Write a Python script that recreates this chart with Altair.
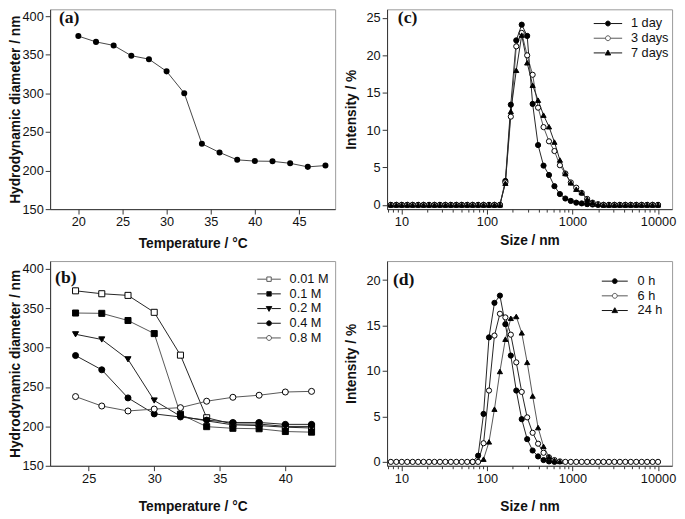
import altair as alt
import pandas as pd

FONT = "Liberation Sans"
SERIF = "Liberation Serif"

# ---------------- panel (a) ----------------
A_TEMP = [20, 22, 24, 26, 28, 30, 32, 34, 36, 38, 40, 42, 44, 46, 48]
A_DIAM = [374.3, 366.8, 362.2, 348.9, 344.4, 328.6, 300.3, 234.7, 223.5, 213.9,
          212.3, 212.0, 209.4, 204.8, 206.5]

# ---------------- panel (b) ----------------
B_TEMP = [24, 26, 28, 30, 32, 34, 36, 38, 40, 42]
B_SERIES = ["0.01 M", "0.1 M", "0.2 M", "0.4 M", "0.8 M"]
B_001 = [372.2, 368.5, 366.4, 344.9, 290.5, 211.0, 203.0, 203.0, 200.0, 200.0]
B_01 = [344.0, 343.6, 334.5, 317.9, 215.4, 199.7, 197.6, 197.0, 193.5, 192.7]
B_02 = [317.0, 310.4, 285.2, 232.9, 213.0, 207.0, 202.0, 201.0, 199.0, 198.0]
B_04 = [290.0, 271.9, 236.2, 215.9, 212.0, 208.0, 205.0, 205.0, 202.6, 202.6]
B_08 = [237.9, 225.9, 219.6, 222.0, 223.8, 232.0, 237.0, 239.6, 243.7, 244.5]

# ---------------- panels (c) and (d): size bins (nm) ----------------
SIZES = [7.531, 8.721, 10.10, 11.70, 13.54, 15.69, 18.17, 21.04, 24.36, 28.21,
         32.67, 37.84, 43.82, 50.75, 58.77, 68.06, 78.82, 91.28, 105.7, 122.4,
         141.8, 164.2, 190.1, 220.2, 255.0, 295.3, 342.0, 396.1, 458.7, 531.2,
         615.1, 712.4, 825.0, 955.4, 1106, 1281, 1484, 1718, 1990, 2305,
         2669, 3091, 3580, 4145, 4801, 5560, 6439, 7456, 8635, 10000]

C_SERIES = ["1 day", "3 days", "7 days"]
C_1DAY = [0, 0, 0, 0, 0, 0, 0, 0, 0, 0,
          0, 0, 0, 0, 0, 0, 0, 0, 0, 0,
          0, 3.2, 13.4, 22.0, 24.1, 22.6, 13.5, 8.0, 5.25, 4.0,
          2.5, 1.45, 0.85, 0.53, 0.3, 0.2, 0.1, 0.05, 0, 0,
          0, 0, 0, 0, 0, 0, 0, 0, 0, 0]
C_3DAY = [0, 0, 0, 0, 0, 0, 0, 0, 0, 0,
          0, 0, 0, 0, 0, 0, 0, 0, 0, 0,
          0, 3.0, 11.8, 21.2, 23.0, 20.0, 17.4, 13.0, 10.4, 8.5,
          7.2, 5.3, 4.2, 3.0, 2.3, 1.6, 0.8, 0.3, 0.1, 0,
          0, 0, 0, 0, 0, 0, 0, 0, 0, 0]
C_7DAY = [0, 0, 0, 0, 0, 0, 0, 0, 0, 0,
          0, 0, 0, 0, 0, 0, 0, 0, 0, 0,
          0, 2.9, 12.5, 18.0, 22.7, 19.0, 16.0, 14.0, 12.0, 10.45,
          8.4, 6.0, 4.2, 2.95, 2.1, 1.65, 0.75, 0.35, 0.1, 0,
          0, 0, 0, 0, 0, 0, 0, 0, 0, 0]

D_SERIES = ["0 h", "6 h", "24 h"]
D_0H_SIZE = [68.06, 78.82, 91.28, 105.7, 122.4, 141.8, 164.2, 190.1, 220.2, 255.0,
             295.3, 342.0, 396.1, 458.7, 531.2, 615.1]
D_0H = [0, 0.68, 5.28, 13.7, 17.5, 18.3, 15.15, 11.7, 7.85, 4.7,
        2.5, 1.25, 0.6, 0.2, 0.05, 0]
D_6H = [0, 0, 0, 0, 0, 0, 0, 0, 0, 0,
        0, 0, 0, 0, 0, 0, 0, 2.05, 7.85, 13.9,
        16.3, 15.9, 14.0, 10.95, 7.7, 4.9, 3.2, 2.0, 1.0, 0.5,
        0.2, 0.05, 0, 0, 0, 0, 0, 0, 0, 0,
        0, 0, 0, 0, 0, 0, 0, 0, 0, 0]
D_24H_SIZE = [91.28, 105.7, 122.4, 141.8, 164.2, 190.1, 220.2, 255.0, 295.3, 342.0,
              396.1, 458.7, 531.2, 615.1, 712.4]
D_24H = [0.3, 2.2, 5.8, 9.95, 13.5, 15.8, 16.0, 14.2, 10.95, 7.25,
         3.77, 1.7, 0.55, 0.18, 0.05]

LOG_MAJOR = [10, 100, 1000, 10000]
LOG_MINOR = [7, 8, 9, 20, 30, 40, 50, 60, 70, 80, 90,
             200, 300, 400, 500, 600, 700, 800, 900,
             2000, 3000, 4000, 5000, 6000, 7000, 8000, 9000]


def long_df(pairs):
    rows = []
    for name, xs, ys in pairs:
        for x, y in zip(xs, ys):
            rows.append({"x": x, "y": y, "series": name})
    return pd.DataFrame(rows)


def legend_path(kind, L):
    seg = f"M{-L},0H-1M1,0H{L}"
    if kind == "circle":
        m = "M-1,0A1,1,0,1,1,1,0A1,1,0,1,1,-1,0Z"
    elif kind == "square":
        m = "M-0.9,-0.9H0.9V0.9H-0.9Z"
    elif kind == "triangle-up":
        m = "M0,-1.15L1.15,0.85H-1.15Z"
    else:
        m = "M0,1.15L1.15,-0.85H-1.15Z"
    return seg + m


def y_axis(values, title, tx):
    return alt.Axis(values=values, title=title, titleFontSize=14, titleFontWeight="bold",
                    titleFont=FONT, labelFont=FONT, labelFontSize=13, tickSize=5,
                    labelPadding=2, titleX=tx, grid=False)


def x_axis(values, title, tpad, fmt=None):
    kw = dict(values=values, title=title, titleFontSize=14, titleFontWeight="bold",
              titleFont=FONT, labelFont=FONT, labelFontSize=13, tickSize=5,
              labelPadding=2, titlePadding=tpad, grid=False, orient="bottom")
    if fmt:
        kw["format"] = fmt
    return alt.Axis(**kw)


def label_layer(text, dx, dy):
    return alt.Chart(pd.DataFrame({"t": [text]})).mark_text(
        align="left", baseline="top", font=SERIF, fontSize=18, fontWeight="bold",
        color="#111").encode(text="t:N", x=alt.value(dx), y=alt.value(dy))


def multi_panel(df, order, shapes, fills, line_cols, leg_strokes, xscale, yscale, xaxis,
                yaxis, minor_axis, lpaths, lx, ly, loff, msize, label, lbx, lby, h):
    base = alt.Chart(df)
    line = base.mark_line(strokeWidth=1).encode(
        x=alt.X("x:Q", scale=xscale, axis=xaxis),
        y=alt.Y("y:Q", scale=yscale, axis=yaxis),
        color=alt.Color("series:N", scale=alt.Scale(domain=order, range=line_cols), legend=None),
    )
    pts = base.mark_point(filled=True, size=msize, stroke="black", strokeWidth=1, opacity=1).encode(
        x=alt.X("x:Q", scale=xscale, axis=minor_axis if minor_axis is not None else xaxis),
        y=alt.Y("y:Q", scale=yscale, axis=yaxis),
        shape=alt.Shape("series:N", scale=alt.Scale(domain=order, range=shapes), legend=None),
        fill=alt.Fill("series:N", scale=alt.Scale(domain=order, range=fills), legend=None),
    )
    leg = alt.Legend(title=None, orient="none", legendX=lx, legendY=ly, symbolSize=25,
                     labelOffset=loff, labelFontSize=13, labelFont=FONT, padding=0,
                     rowPadding=1, symbolStrokeWidth=1, symbolOpacity=1, labelColor="#111")
    # legend-only layer: no marks drawn (empty after filter), explicit domains drive the legend
    legl = base.transform_filter("false").mark_point(filled=True, strokeWidth=1, size=25).encode(
        x=alt.X("x:Q", scale=xscale, axis=None if minor_axis is not None else xaxis),
        y=alt.Y("y:Q", scale=yscale, axis=yaxis),
        shape=alt.Shape("series:N", scale=alt.Scale(domain=order, range=lpaths), legend=leg),
        fill=alt.Fill("series:N", scale=alt.Scale(domain=order, range=fills), legend=leg),
        stroke=alt.Stroke("series:N", scale=alt.Scale(domain=order, range=leg_strokes), legend=leg),
    )
    ch = alt.layer(line, pts, legl, label_layer(label, lbx, lby)).resolve_scale(
        shape="independent", fill="independent", stroke="independent")
    if minor_axis is not None:
        ch = ch.resolve_axis(x="independent")
    return ch.properties(width=291, height=h)


# ---- panel a ----
dfa = pd.DataFrame({"x": A_TEMP, "y": A_DIAM})
sa_x = alt.Scale(domain=[16.8, 49.1], nice=False, zero=False)
sa_y = alt.Scale(domain=[150, 409], nice=False, zero=False)
ax_a_x = x_axis([20, 25, 30, 35, 40, 45], "Temperature / °C", 8)
ax_a_y = y_axis([150, 200, 250, 300, 350, 400], "Hydrodynamic diameter / nm", -28)
a_line = alt.Chart(dfa).mark_line(color="#444", strokeWidth=1).encode(
    x=alt.X("x:Q", scale=sa_x, axis=ax_a_x),
    y=alt.Y("y:Q", scale=sa_y, axis=ax_a_y),
)
a_pts = alt.Chart(dfa).mark_circle(color="black", size=38, opacity=1).encode(
    x=alt.X("x:Q", scale=sa_x, axis=ax_a_x), y=alt.Y("y:Q", scale=sa_y, axis=ax_a_y))
panel_a = alt.layer(a_line, a_pts, label_layer("(a)", 9, 0)).properties(width=291, height=204)

# ---- panel b ----
dfb = long_df([("0.01 M", B_TEMP, B_001), ("0.1 M", B_TEMP, B_01), ("0.2 M", B_TEMP, B_02),
               ("0.4 M", B_TEMP, B_04), ("0.8 M", B_TEMP, B_08)])
B_SHAPES = ["square", "square", "triangle-down", "circle", "circle"]
B_FILLS = ["white", "black", "black", "black", "white"]
B_LINES = ["#666", "#333", "#333", "#333", "#666"]
B_LEGSTROKE = ["#555", "#111", "#111", "#111", "#555"]
panel_b = multi_panel(
    dfb, B_SERIES, B_SHAPES, B_FILLS, B_LINES, B_LEGSTROKE,
    alt.Scale(domain=[22.06, 43.8], nice=False, zero=False),
    alt.Scale(domain=[150, 410], nice=False, zero=False),
    x_axis([25, 30, 35, 40], "Temperature / °C", 15),
    y_axis([150, 200, 250, 300, 350, 400], "Hydrodynamic diameter / nm", -28),
    None, [legend_path(s, 4.8) for s in B_SHAPES], 217, 12, 14.5, 38, "(b)", 5, 8, 209)

# ---- panel c ----
dfc = long_df([("1 day", SIZES, C_1DAY), ("3 days", SIZES, C_3DAY), ("7 days", SIZES, C_7DAY)])
C_SHAPES = ["circle", "circle", "triangle-up"]
C_FILLS = ["black", "white", "black"]
C_LINES = ["#222", "#555", "#222"]
C_LEGSTROKE = ["#111", "#555", "#111"]
log_scale = alt.Scale(type="log", domain=[6.8, 14600], nice=False)
minor = alt.Axis(values=LOG_MINOR, labels=False, title=None, tickSize=3, domain=False,
                 grid=False, orient="bottom")
panel_c = multi_panel(
    dfc, C_SERIES, C_SHAPES, C_FILLS, C_LINES, C_LEGSTROKE,
    log_scale, alt.Scale(domain=[-0.57, 26.15], nice=False, zero=False),
    x_axis(LOG_MAJOR, "Size / nm", 5, "d"),
    y_axis([0, 5, 10, 15, 20, 25], "Intensity / %", -29),
    minor, [legend_path(s, 5.8) for s in C_SHAPES], 219, 8, 17, 28, "(c)", 11, 0, 204)

# ---- panel d ----
dfd = long_df([("0 h", D_0H_SIZE, D_0H), ("6 h", SIZES, D_6H), ("24 h", D_24H_SIZE, D_24H)])
D_SHAPES = ["circle", "circle", "triangle-up"]
D_FILLS = ["black", "white", "black"]
D_LINES = ["#222", "#555", "#222"]
D_LEGSTROKE = ["#111", "#555", "#111"]
panel_d = multi_panel(
    dfd, D_SERIES, D_SHAPES, D_FILLS, D_LINES, D_LEGSTROKE,
    log_scale, alt.Scale(domain=[-0.43, 22.1], nice=False, zero=False),
    x_axis(LOG_MAJOR, "Size / nm", 15, "d"),
    y_axis([0, 5, 10, 15, 20], "Intensity / %", -29),
    minor, [legend_path(s, 5.3) for s in D_SHAPES], 226, 14, 16.8, 28, "(d)", 6, 10, 209)

chart = alt.concat(panel_a, panel_c, panel_b, panel_d, columns=2,
                   spacing={"row": 9, "column": 8}).properties(
    padding={"left": 0, "top": -5, "right": 0, "bottom": 0}
).configure_view(stroke="#999", strokeWidth=1).configure_axis(
    domainColor="#333", tickColor="#333", labelColor="#111", titleColor="#111"
).configure_legend(
    labelOffset=17, symbolSize=25, symbolStrokeWidth=1, rowPadding=1, padding=0,
    labelFontSize=13, labelFont=FONT, symbolStrokeColor="black"
)

chart.save("out.html", embed_options={"renderer": "svg", "actions": False})
